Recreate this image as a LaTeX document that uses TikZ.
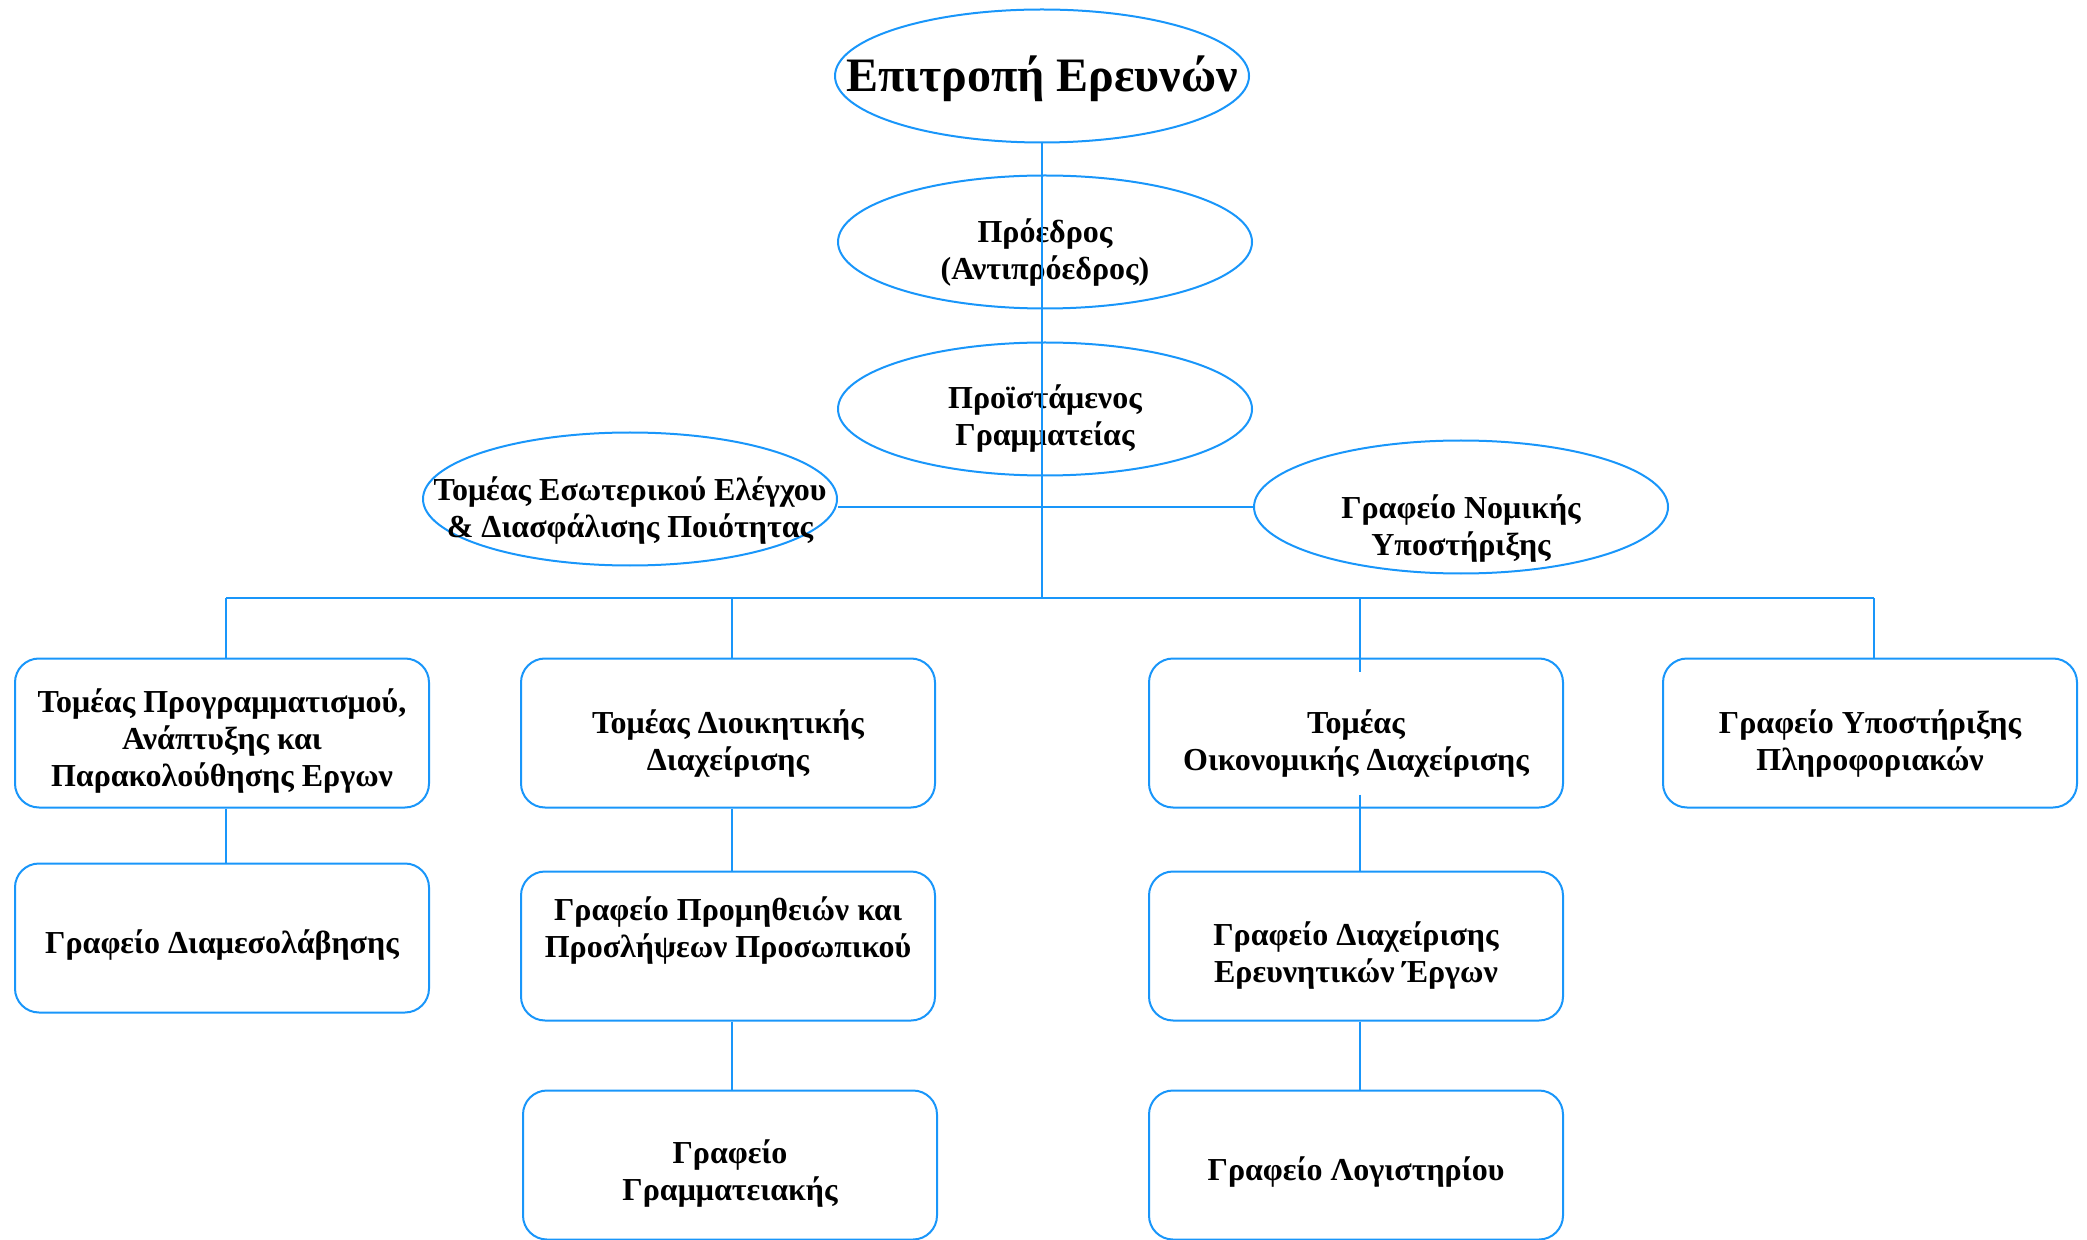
\documentclass[tikz,border=0pt]{standalone}
\usepackage{fontspec}
\setmainfont{Liberation Serif}
\usetikzlibrary{shapes.geometric}
\definecolor{orgblue}{RGB}{25,150,250}

\begin{document}
\begin{tikzpicture}[x=0.5pt,y=-0.5pt,
  txt/.style={align=center,font=\bfseries\fontsize{16}{18.5}\selectfont},
  oval/.style 2 args={draw=orgblue,line width=1pt,ellipse,minimum width=207pt,minimum height=66.5pt,inner sep=0pt,
    label={[txt,yshift=#1]center:#2}},
  unit/.style 2 args={draw=orgblue,line width=1pt,rounded corners=12pt,minimum width=207pt,minimum height=74.5pt,
    label={[txt,yshift=#1]center:#2}},
  link/.style={draw=orgblue,line width=0.8pt}]
\useasboundingbox (0,0) rectangle (2087,1240);

% top of the chart
\node[oval={-1.3pt}{\fontsize{24}{28}\selectfont Επιτροπή Ερευνών}] (board) at (1042,76) {};
\node[oval={-5.3pt}{Πρόεδρος\\(Αντιπρόεδρος)}] (chair) at (1045,242) {};
\node[oval={-4.7pt}{Προϊστάμενος\\Γραμματείας}] (head) at (1045,409) {};
\node[oval={-6pt}{Τομέας Εσωτερικού Ελέγχου\\\& Διασφάλισης Ποιότητας}] (quality) at (630,499) {};
\node[oval={-10.6pt}{Γραφείο Νομικής\\Υποστήριξης}] (legal) at (1461,507) {};
\coordinate (bus) at (1042,598);

% sectors
\node[unit={-4pt}{Τομέας Προγραμματισμού,\\Ανάπτυξης και\\Παρακολούθησης Εργων}] (secplan) at (222,733) {};
\node[unit={-5.3pt}{Τομέας Διοικητικής\\Διαχείρισης}] (secadmin) at (728,733) {};
\node[unit={-5.3pt}{Τομέας\\Οικονομικής Διαχείρισης}] (secfin) at (1356,733) {};
\node[unit={-5.3pt}{Γραφείο Υποστήριξης\\Πληροφοριακών}] (secinfo) at (1870,733) {};

% offices
\node[unit={-3.3pt}{Γραφείο Διαμεσολάβησης}] (offmed) at (222,938) {};
\node[unit={7.9pt}{Γραφείο Προμηθειών και\\Προσλήψεων Προσωπικού}] (offproc) at (728,946) {};
\node[unit={-4.3pt}{Γραφείο\\Γραμματειακής}] (offsecr) at (730,1165) {};
\node[unit={-4.7pt}{Γραφείο Διαχείρισης\\Ερευνητικών Έργων}] (offproj) at (1356,946) {};
\node[unit={-3.3pt}{Γραφείο Λογιστηρίου}] (offacct) at (1356,1165) {};

% connectors
\draw[link] (board.south) -- (bus);
\draw[link] (quality.east |- legal.west) -- (legal.west);
\draw[link] ([xshift=2pt]secplan.north |- bus) -- ([xshift=2pt]secinfo.north |- bus);
\foreach \s in {secplan,secadmin,secinfo} % drops from the bus
\draw[link] ([xshift=2pt]\s.north |- bus) -- ([xshift=2pt]\s.north);
\draw[link,shorten >=-7pt] ([xshift=2pt]secfin.north |- bus) -- ([xshift=2pt]secfin.north);
\draw[link] ([xshift=2pt]secplan.south) -- ([xshift=2pt]offmed.north);
\draw[link] ([xshift=2pt]secadmin.south) -- ([xshift=2pt]offproc.north);
\draw[link] ([xshift=2pt]offproc.south) -- ([xshift=2pt]offsecr.north -| offproc.south);
\draw[link,shorten <=-7pt] ([xshift=2pt]secfin.south) -- ([xshift=2pt]offproj.north);
\draw[link] ([xshift=2pt]offproj.south) -- ([xshift=2pt]offacct.north);
\end{tikzpicture}
\end{document}
